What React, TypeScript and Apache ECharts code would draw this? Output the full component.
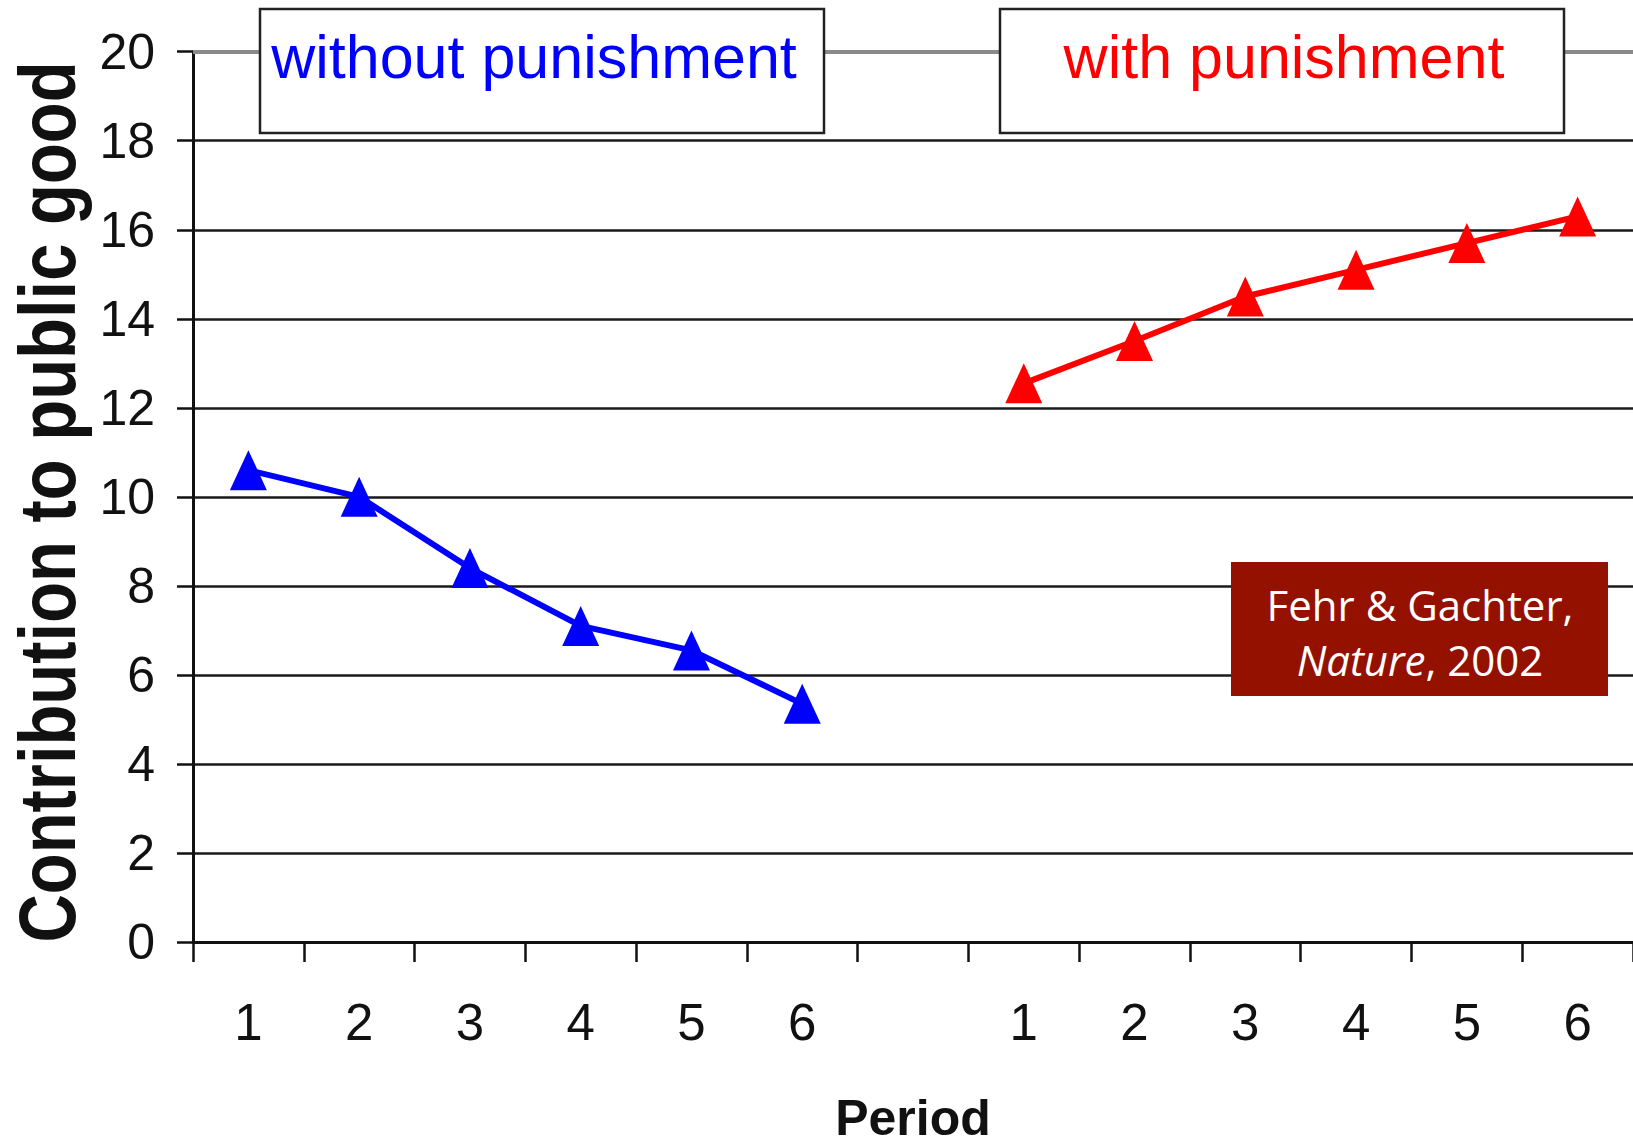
import React, { useEffect, useRef } from "react";
import * as echarts from "echarts";

const periods = ["1", "2", "3", "4", "5", "6", "", "1", "2", "3", "4", "5", "6"];
const withoutPunishment = [10.6, 10.0, 8.4, 7.1, 6.55, 5.35, null, null, null, null, null, null, null];
const withPunishment = [null, null, null, null, null, null, null, 12.55, 13.5, 14.5, 15.1, 15.7, 16.3];
const yTicks = [0, 2, 4, 6, 8, 10, 12, 14, 16, 18, 20];
const yAxisTitle = "Contribution to public good";
const xAxisTitle = "Period";
const panelTitles = ["without punishment", "with punishment"];
const sourceLine1 = "Fehr & Gachter,";
const sourceJournal = "Nature";
const sourceYear = "2002";

const SANS = "'Liberation Sans', Arial, sans-serif";

export default function App() {
  const ref = useRef<HTMLDivElement>(null);
  useEffect(() => {
    if (!ref.current) return;
    const chart = echarts.init(ref.current, null, { renderer: "svg" });
    const gridColors = yTicks.map((t, i) => (i === yTicks.length - 1 ? "#8a8a8a" : "#1a1a1a"));
    chart.setOption({
      animation: false,
      backgroundColor: "#ffffff",
      grid: { left: 193, right: 0, top: 51.7, bottom: 203, outerBoundsMode: "none", containLabel: false },
      xAxis: {
        type: "category",
        data: periods,
        boundaryGap: true,
        name: xAxisTitle,
        nameLocation: "middle",
        nameGap: 151,
        nameTextStyle: { fontFamily: SANS, fontWeight: "bold", fontSize: 50, color: "#111" },
        axisLine: { show: true, lineStyle: { color: "#111", width: 3 } },
        axisTick: { show: true, length: 20, interval: 0, lineStyle: { color: "#111", width: 2.5 } },
        axisLabel: { interval: 0, margin: 55, fontFamily: SANS, fontSize: 51, color: "#111" },
        splitLine: { show: false },
      },
      yAxis: {
        type: "value",
        min: yTicks[0],
        max: yTicks[yTicks.length - 1],
        interval: 2,
        axisLine: { show: true, lineStyle: { color: "#111", width: 3 } },
        axisTick: { show: true, length: 16, lineStyle: { color: "#111", width: 2.5 } },
        axisLabel: { margin: 38, fontFamily: SANS, fontSize: 50, color: "#111" },
        splitLine: { show: true, lineStyle: { color: gridColors, width: 2.5 } },
      },
      series: [
        {
          name: panelTitles[0],
          type: "line",
          data: withoutPunishment,
          connectNulls: false,
          symbol: "triangle",
          symbolSize: [37, 40],
          itemStyle: { color: "#0000ff" },
          lineStyle: { color: "#0000ff", width: 6 },
          z: 3,
        },
        {
          name: panelTitles[1],
          type: "line",
          data: withPunishment,
          connectNulls: false,
          symbol: "triangle",
          symbolSize: [37, 40],
          itemStyle: { color: "#ff0000" },
          lineStyle: { color: "#ff0000", width: 6 },
          z: 3,
          markLine: {
            silent: true,
            symbol: "none",
            label: { show: false },
            lineStyle: { color: "#8a8a8a", width: 4, type: "solid" },
            data: [{ yAxis: yTicks[yTicks.length - 1] }],
          },
        },
      ],
      graphic: [
        {
          type: "text",
          x: 47,
          y: 502,
          rotation: Math.PI / 2,
          scaleX: 0.837,
          scaleY: 1,
          z: 10,
          style: {
            text: yAxisTitle,
            fontFamily: SANS,
            fontWeight: "bold",
            fontSize: 80,
            fill: "#111",
            align: "center",
            verticalAlign: "middle",
          },
        },
        {
          type: "rect",
          z: 10,
          shape: { x: 260, y: 9, width: 564, height: 124 },
          style: { fill: "#ffffff", stroke: "#222", lineWidth: 2.5 },
        },
        {
          type: "text",
          z: 11,
          x: 534,
          y: 57,
          style: {
            text: panelTitles[0],
            fontFamily: SANS,
            fontSize: 61,
            fill: "#0000ff",
            align: "center",
            verticalAlign: "middle",
          },
        },
        {
          type: "rect",
          z: 10,
          shape: { x: 1000, y: 9, width: 564, height: 124 },
          style: { fill: "#ffffff", stroke: "#222", lineWidth: 2.5 },
        },
        {
          type: "text",
          z: 11,
          x: 1284,
          y: 57,
          style: {
            text: panelTitles[1],
            fontFamily: SANS,
            fontSize: 61,
            fill: "#ff0000",
            align: "center",
            verticalAlign: "middle",
          },
        },
        {
          type: "rect",
          z: 10,
          shape: { x: 1231, y: 562, width: 377, height: 134 },
          style: { fill: "#941100" },
        },
        {
          type: "text",
          z: 11,
          x: 1420,
          y: 632,
          style: {
            text: sourceLine1 + "\n{i|" + sourceJournal + "}, " + sourceYear,
            fontFamily: "'Open Sans', 'Noto Sans', sans-serif",
            fontSize: 42,
            lineHeight: 55,
            fill: "#ffffff",
            align: "center",
            verticalAlign: "middle",
            rich: {
              i: {
                fontFamily: "'Open Sans', 'Noto Sans', sans-serif",
                fontSize: 42,
                lineHeight: 55,
                fontStyle: "italic",
                fill: "#ffffff",
              },
            },
          },
        },
      ],
    });
    return () => chart.dispose();
  }, []);
  return (
    <div
      ref={ref}
      style={{ position: "absolute", left: 0, top: 0, width: 1633, height: 1145 }}
    />
  );
}
